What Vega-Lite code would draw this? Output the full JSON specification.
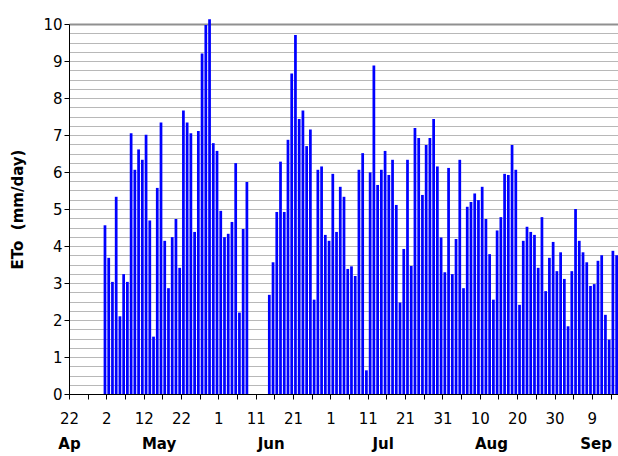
{
  "$schema": "https://vega.github.io/schema/vega-lite/v6.json",
  "width": 549,
  "height": 370,
  "autosize": "none",
  "padding": {"left": 69, "top": 24, "right": 0, "bottom": 62},
  "background": "white",
  "config": {
    "view": {"stroke": null},
    "font": "DejaVu Sans",
    "axis": {"labelFont": "DejaVu Sans", "titleFont": "DejaVu Sans", "labelColor": "black", "titleColor": "black"}
  },
  "data": {"values": [
    {"date": "2003-05-01", "eto": 4.56}, {"date": "2003-05-02", "eto": 3.68}, {"date": "2003-05-03", "eto": 3.03},
    {"date": "2003-05-04", "eto": 5.33}, {"date": "2003-05-05", "eto": 2.10}, {"date": "2003-05-06", "eto": 3.24},
    {"date": "2003-05-07", "eto": 3.03}, {"date": "2003-05-08", "eto": 7.05}, {"date": "2003-05-09", "eto": 6.06},
    {"date": "2003-05-10", "eto": 6.61}, {"date": "2003-05-11", "eto": 6.33}, {"date": "2003-05-12", "eto": 7.01},
    {"date": "2003-05-13", "eto": 4.69}, {"date": "2003-05-14", "eto": 1.55}, {"date": "2003-05-15", "eto": 5.57},
    {"date": "2003-05-16", "eto": 7.34}, {"date": "2003-05-17", "eto": 4.14}, {"date": "2003-05-18", "eto": 2.86},
    {"date": "2003-05-19", "eto": 4.24}, {"date": "2003-05-20", "eto": 4.73}, {"date": "2003-05-21", "eto": 3.41},
    {"date": "2003-05-22", "eto": 7.66}, {"date": "2003-05-23", "eto": 7.34}, {"date": "2003-05-24", "eto": 7.05},
    {"date": "2003-05-25", "eto": 4.38}, {"date": "2003-05-26", "eto": 7.11}, {"date": "2003-05-27", "eto": 9.20},
    {"date": "2003-05-28", "eto": 9.97}, {"date": "2003-05-29", "eto": 10.13}, {"date": "2003-05-30", "eto": 6.78},
    {"date": "2003-05-31", "eto": 6.57}, {"date": "2003-06-01", "eto": 4.95}, {"date": "2003-06-02", "eto": 4.24},
    {"date": "2003-06-03", "eto": 4.33}, {"date": "2003-06-04", "eto": 4.65}, {"date": "2003-06-05", "eto": 6.24},
    {"date": "2003-06-06", "eto": 2.20}, {"date": "2003-06-07", "eto": 4.46}, {"date": "2003-06-08", "eto": 5.73},
    {"date": "2003-06-14", "eto": 2.68}, {"date": "2003-06-15", "eto": 3.56}, {"date": "2003-06-16", "eto": 4.92},
    {"date": "2003-06-17", "eto": 6.28}, {"date": "2003-06-18", "eto": 4.92}, {"date": "2003-06-19", "eto": 6.87},
    {"date": "2003-06-20", "eto": 8.66}, {"date": "2003-06-21", "eto": 9.70}, {"date": "2003-06-22", "eto": 7.43},
    {"date": "2003-06-23", "eto": 7.66}, {"date": "2003-06-24", "eto": 6.70}, {"date": "2003-06-25", "eto": 7.15},
    {"date": "2003-06-26", "eto": 2.55}, {"date": "2003-06-27", "eto": 6.06}, {"date": "2003-06-28", "eto": 6.15},
    {"date": "2003-06-29", "eto": 4.30}, {"date": "2003-06-30", "eto": 4.14}, {"date": "2003-07-01", "eto": 5.95},
    {"date": "2003-07-02", "eto": 4.38}, {"date": "2003-07-03", "eto": 5.60}, {"date": "2003-07-04", "eto": 5.33},
    {"date": "2003-07-05", "eto": 3.38}, {"date": "2003-07-06", "eto": 3.45}, {"date": "2003-07-07", "eto": 3.19},
    {"date": "2003-07-08", "eto": 6.06}, {"date": "2003-07-09", "eto": 6.51}, {"date": "2003-07-10", "eto": 0.64},
    {"date": "2003-07-11", "eto": 5.99}, {"date": "2003-07-12", "eto": 8.88}, {"date": "2003-07-13", "eto": 5.65},
    {"date": "2003-07-14", "eto": 6.06}, {"date": "2003-07-15", "eto": 6.57}, {"date": "2003-07-16", "eto": 5.92},
    {"date": "2003-07-17", "eto": 6.33}, {"date": "2003-07-18", "eto": 5.11}, {"date": "2003-07-19", "eto": 2.47},
    {"date": "2003-07-20", "eto": 3.92}, {"date": "2003-07-21", "eto": 6.33}, {"date": "2003-07-22", "eto": 3.46},
    {"date": "2003-07-23", "eto": 7.19}, {"date": "2003-07-24", "eto": 6.92}, {"date": "2003-07-25", "eto": 5.38},
    {"date": "2003-07-26", "eto": 6.73}, {"date": "2003-07-27", "eto": 6.92}, {"date": "2003-07-28", "eto": 7.43},
    {"date": "2003-07-29", "eto": 6.15}, {"date": "2003-07-30", "eto": 4.23}, {"date": "2003-07-31", "eto": 3.29},
    {"date": "2003-08-01", "eto": 6.11}, {"date": "2003-08-02", "eto": 3.24}, {"date": "2003-08-03", "eto": 4.19},
    {"date": "2003-08-04", "eto": 6.33}, {"date": "2003-08-05", "eto": 2.86}, {"date": "2003-08-06", "eto": 5.06},
    {"date": "2003-08-07", "eto": 5.19}, {"date": "2003-08-08", "eto": 5.42}, {"date": "2003-08-09", "eto": 5.24},
    {"date": "2003-08-10", "eto": 5.60}, {"date": "2003-08-11", "eto": 4.73}, {"date": "2003-08-12", "eto": 3.78},
    {"date": "2003-08-13", "eto": 2.55}, {"date": "2003-08-14", "eto": 4.42}, {"date": "2003-08-15", "eto": 4.78},
    {"date": "2003-08-16", "eto": 5.95}, {"date": "2003-08-17", "eto": 5.92}, {"date": "2003-08-18", "eto": 6.73},
    {"date": "2003-08-19", "eto": 6.06}, {"date": "2003-08-20", "eto": 2.41}, {"date": "2003-08-21", "eto": 4.14},
    {"date": "2003-08-22", "eto": 4.52}, {"date": "2003-08-23", "eto": 4.38}, {"date": "2003-08-24", "eto": 4.30},
    {"date": "2003-08-25", "eto": 3.41}, {"date": "2003-08-26", "eto": 4.78}, {"date": "2003-08-27", "eto": 2.78},
    {"date": "2003-08-28", "eto": 3.68}, {"date": "2003-08-29", "eto": 4.11}, {"date": "2003-08-30", "eto": 3.32},
    {"date": "2003-08-31", "eto": 3.83}, {"date": "2003-09-01", "eto": 3.11}, {"date": "2003-09-02", "eto": 1.83},
    {"date": "2003-09-03", "eto": 3.32}, {"date": "2003-09-04", "eto": 5.00}, {"date": "2003-09-05", "eto": 4.14},
    {"date": "2003-09-06", "eto": 3.83}, {"date": "2003-09-07", "eto": 3.56}, {"date": "2003-09-08", "eto": 2.92},
    {"date": "2003-09-09", "eto": 2.97}, {"date": "2003-09-10", "eto": 3.60}, {"date": "2003-09-11", "eto": 3.75},
    {"date": "2003-09-12", "eto": 2.14}, {"date": "2003-09-13", "eto": 1.47}, {"date": "2003-09-14", "eto": 3.87},
    {"date": "2003-09-15", "eto": 3.75}
  ]},
  "resolve": {"axis": {"x": "independent"}},
  "layer": [
    {
      "mark": {"type": "bar", "color": "#0000ff", "timeUnitBandSize": 0.75, "timeUnitBandPosition": 0.125},
      "encoding": {
        "x": {
          "field": "date", "type": "temporal", "timeUnit": "utcyearmonthdate",
          "scale": {"domain": [{"year": 2003, "month": 4, "date": 22, "utc": true}, {"year": 2003, "month": 9, "date": 16, "utc": true}], "nice": false},
          "axis": {
            "orient": "bottom",
            "title": null,
            "values": [
              {"year": 2003, "month": 4, "date": 22, "utc": true}, {"year": 2003, "month": 4, "date": 27, "utc": true},
              {"year": 2003, "month": 5, "date": 2, "utc": true}, {"year": 2003, "month": 5, "date": 7, "utc": true},
              {"year": 2003, "month": 5, "date": 12, "utc": true}, {"year": 2003, "month": 5, "date": 17, "utc": true},
              {"year": 2003, "month": 5, "date": 22, "utc": true}, {"year": 2003, "month": 5, "date": 27, "utc": true},
              {"year": 2003, "month": 6, "date": 1, "utc": true}, {"year": 2003, "month": 6, "date": 6, "utc": true},
              {"year": 2003, "month": 6, "date": 11, "utc": true}, {"year": 2003, "month": 6, "date": 16, "utc": true},
              {"year": 2003, "month": 6, "date": 21, "utc": true}, {"year": 2003, "month": 6, "date": 26, "utc": true},
              {"year": 2003, "month": 7, "date": 1, "utc": true}, {"year": 2003, "month": 7, "date": 6, "utc": true},
              {"year": 2003, "month": 7, "date": 11, "utc": true}, {"year": 2003, "month": 7, "date": 16, "utc": true},
              {"year": 2003, "month": 7, "date": 21, "utc": true}, {"year": 2003, "month": 7, "date": 26, "utc": true},
              {"year": 2003, "month": 7, "date": 31, "utc": true}, {"year": 2003, "month": 8, "date": 5, "utc": true},
              {"year": 2003, "month": 8, "date": 10, "utc": true}, {"year": 2003, "month": 8, "date": 15, "utc": true},
              {"year": 2003, "month": 8, "date": 20, "utc": true}, {"year": 2003, "month": 8, "date": 25, "utc": true},
              {"year": 2003, "month": 8, "date": 30, "utc": true}, {"year": 2003, "month": 9, "date": 4, "utc": true},
              {"year": 2003, "month": 9, "date": 9, "utc": true}, {"year": 2003, "month": 9, "date": 14, "utc": true}
            ],
            "labelExpr": "indexof([22, 2, 12, 1, 11, 21, 31, 10, 20, 30, 9], utcdate(datum.value)) >= 0 ? utcFormat(datum.value, '%-d') : ''",
            "labelFontSize": 15,
            "labelPadding": 12,
            "labelOverlap": false,
            "labelFlush": false,
            "labelBound": false,
            "tickSize": 5,
            "tickColor": "black",
            "domainColor": "black",
            "grid": false
          }
        },
        "y": {
          "field": "eto", "type": "quantitative",
          "scale": {"domain": [0, 10], "nice": false},
          "axis": {
            "title": "ETo\u00a0\u00a0(mm/day)",
            "titleFontSize": 15,
            "titleFontWeight": "bold",
            "titlePadding": 17,
            "values": [0, 0.25, 0.5, 0.75, 1, 1.25, 1.5, 1.75, 2, 2.25, 2.5, 2.75, 3, 3.25, 3.5, 3.75, 4, 4.25, 4.5, 4.75, 5, 5.25, 5.5, 5.75, 6, 6.25, 6.5, 6.75, 7, 7.25, 7.5, 7.75, 8, 8.25, 8.5, 8.75, 9, 9.25, 9.5, 9.75, 10],
            "labelExpr": "datum.value % 1 == 0 ? format(datum.value, 'd') : ''",
            "labelFontSize": 15,
            "labelPadding": 2,
            "tickSize": 5,
            "tickColor": "black",
            "tickOpacity": {"condition": {"test": "datum.value % 1 == 0", "value": 1}, "value": 0},
            "domainColor": "black",
            "grid": true,
            "gridColor": {"condition": {"test": "datum.value == 10", "value": "#909090"}, "value": "#b8b8b8"},
            "gridWidth": {"condition": {"test": "datum.value == 10", "value": 2}, "value": 1},
            "gridOpacity": 1
          }
        }
      }
    },
    {
      "mark": {"type": "rule", "opacity": 0},
      "encoding": {
        "x": {
          "field": "date", "type": "temporal", "timeUnit": "utcyearmonthdate",
          "axis": {
            "orient": "bottom",
            "title": null,
            "values": [
              {"year": 2003, "month": 4, "date": 22, "utc": true},
              {"year": 2003, "month": 5, "date": 16, "utc": true},
              {"year": 2003, "month": 6, "date": 15, "utc": true},
              {"year": 2003, "month": 7, "date": 15, "utc": true},
              {"year": 2003, "month": 8, "date": 13, "utc": true},
              {"year": 2003, "month": 9, "date": 10, "utc": true}
            ],
            "labelExpr": "utcFormat(datum.value, '%b') == 'Apr' ? 'Ap' : utcFormat(datum.value, '%b')",
            "labelFontSize": 15,
            "labelFontWeight": "bold",
            "labelPadding": 42,
            "labelOverlap": false,
            "labelFlush": false,
            "labelBound": false,
            "ticks": false,
            "domain": false,
            "grid": false
          }
        }
      }
    }
  ]
}
